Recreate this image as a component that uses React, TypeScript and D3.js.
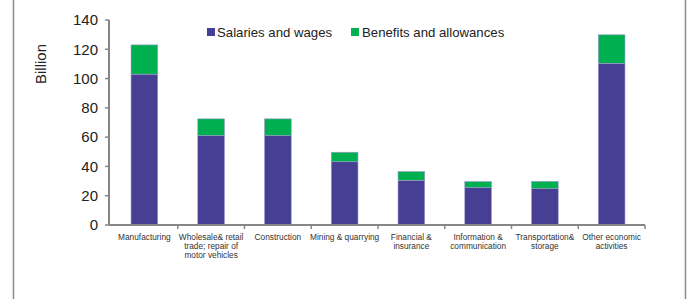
import React from "react";
import * as d3 from "d3";

const categories = [
  ["Manufacturing"],
  ["Wholesale& retail", "trade; repair of", "motor vehicles"],
  ["Construction"],
  ["Mining & quarrying"],
  ["Financial &", "insurance"],
  ["Information &", "communication"],
  ["Transportation&", "storage"],
  ["Other economic", "activities"],
];
const salaries = [103, 61, 61, 43.2, 30.5, 25.5, 24.8, 110.4];
const benefits = [20, 11.5, 11.5, 6.5, 6, 4.2, 5, 19.5];
const yTicks = [0, 20, 40, 60, 80, 100, 120, 140];
const seriesNames = ["Salaries and wages", "Benefits and allowances"];
const colors = ["#463f94", "#00b050"];

const W = 692;
const H = 299;

export default function App() {
  const x = d3.scaleBand<number>().domain(d3.range(categories.length)).range([111, 645]).paddingInner(0.6).paddingOuter(0.3);
  const y = d3.scaleLinear().domain([0, 140]).range([225, 20]);
  const rows = categories.map((_, i) => ({ i, s: salaries[i], b: benefits[i] }));
  const stack = d3.stack<any>().keys(["s", "b"])(rows);
  const step = x.step();
  const font = "'Liberation Sans', Arial, sans-serif";

  return (
    <svg width={W} height={H} style={{ position: "absolute", left: 0, top: 0 }}>
      <line x1={13.5} x2={13.5} y1={0} y2={H} stroke="#8c8c8c" strokeWidth={1.5} />
      <line x1={685.5} x2={685.5} y1={0} y2={H} stroke="#8c8c8c" strokeWidth={1.5} />

      {stack.map((layer, li) => (
        <g key={li}>
          {layer.map((d, i) => (
            <rect key={i} x={x(i)} y={y(d[1])} width={x.bandwidth()} height={y(d[0]) - y(d[1])}
              fill={colors[li]} stroke="#9f9bd0" strokeWidth={0.6} />
          ))}
        </g>
      ))}

      <line x1={109} x2={109} y1={y(140)} y2={y(0)} stroke="#868686" strokeWidth={2} />
      {yTicks.map((t) => (
        <g key={t}>
          <line x1={105} x2={109} y1={y(t)} y2={y(t)} stroke="#868686" strokeWidth={1.5} />
          <text x={98} y={y(t)} dy="0.35em" textAnchor="end" fontSize={15} fontFamily={font} fill="#222">{t}</text>
        </g>
      ))}
      <line x1={109} x2={645} y1={y(0)} y2={y(0)} stroke="#868686" strokeWidth={2} />
      {categories.map((_, i) => (
        <line key={i} x1={111 + step * (i + 1)} x2={111 + step * (i + 1)} y1={y(0)} y2={y(0) + 4} stroke="#868686" strokeWidth={1.5} />
      ))}
      {categories.map((lines, i) => (
        <text key={i} x={x(i)! + x.bandwidth() / 2} y={240} textAnchor="middle" fontSize={8.3} fontFamily={font} fill="#333">
          {lines.map((l, k) => (
            <tspan key={k} x={x(i)! + x.bandwidth() / 2} dy={k === 0 ? 0 : 9}>{l}</tspan>
          ))}
        </text>
      ))}

      <text transform="translate(46,64) rotate(-90)" textAnchor="middle" fontSize={15} fontFamily={font} fill="#222">Billion</text>

      <rect x={207} y={28} width={8} height={8} fill={colors[0]} />
      <text x={217} y={37} fontSize={13.2} fontFamily={font} fill="#222">{seriesNames[0]}</text>
      <rect x={351} y={28} width={8} height={8} fill={colors[1]} />
      <text x={362} y={37} fontSize={13.2} fontFamily={font} fill="#222">{seriesNames[1]}</text>
    </svg>
  );
}
